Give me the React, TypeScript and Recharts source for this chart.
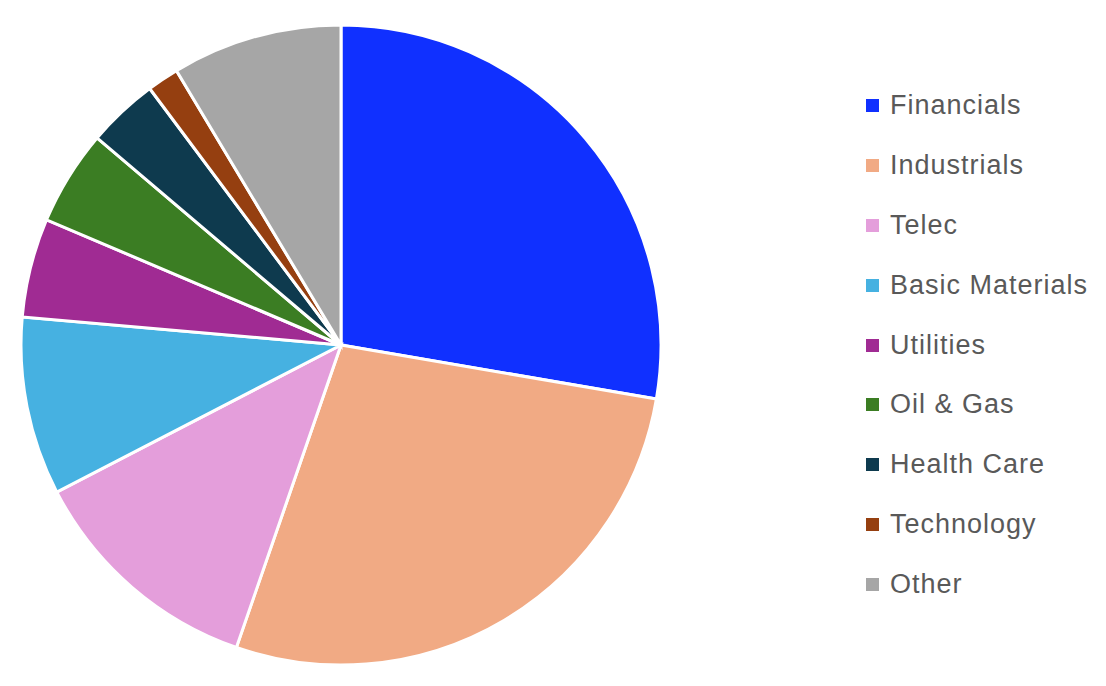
import { PieChart, Pie, Cell, Legend } from "recharts";

const sectors = [
  "Financials",
  "Industrials",
  "Telec",
  "Basic Materials",
  "Utilities",
  "Oil & Gas",
  "Health Care",
  "Technology",
  "Other",
];

const weights = [27.7, 27.6, 12.1, 9.0, 5.0, 4.8, 3.6, 1.6, 8.6];

const colors = [
  "#1030FF",
  "#F1AA84",
  "#E49EDB",
  "#46B1E1",
  "#A02B93",
  "#3B7D23",
  "#0E3A4E",
  "#953F10",
  "#A6A6A6",
];

const data = sectors.map((name, i) => ({ name, value: weights[i] }));

function SectorLegend() {
  return (
    <div style={{ fontFamily: "'Liberation Sans', Arial, sans-serif" }}>
      {sectors.map((name, i) => (
        <div
          key={name}
          style={{
            display: "flex",
            alignItems: "center",
            height: 59.8,
          }}
        >
          <span
            style={{
              display: "inline-block",
              width: 13,
              height: 13,
              background: colors[i],
              marginRight: 11,
            }}
          />
          <span
            style={{
              fontSize: 27,
              color: "#595959",
              letterSpacing: 1,
              lineHeight: 1,
            }}
          >
            {name}
          </span>
        </div>
      ))}
    </div>
  );
}

export default function App() {
  return (
    <PieChart width={1090} height={670}>
      <Pie
        data={data}
        dataKey="value"
        nameKey="name"
        cx={328}
        cy={332}
        outerRadius={320}
        startAngle={90}
        endAngle={-270}
        stroke="#FFFFFF"
        strokeWidth={3}
        isAnimationActive={false}
      >
        {data.map((d, i) => (
          <Cell key={d.name} fill={colors[i]} />
        ))}
      </Pie>
      <Legend
        layout="vertical"
        content={() => <SectorLegend />}
        wrapperStyle={{ left: 858, top: 68, width: 240 }}
      />
    </PieChart>
  );
}
